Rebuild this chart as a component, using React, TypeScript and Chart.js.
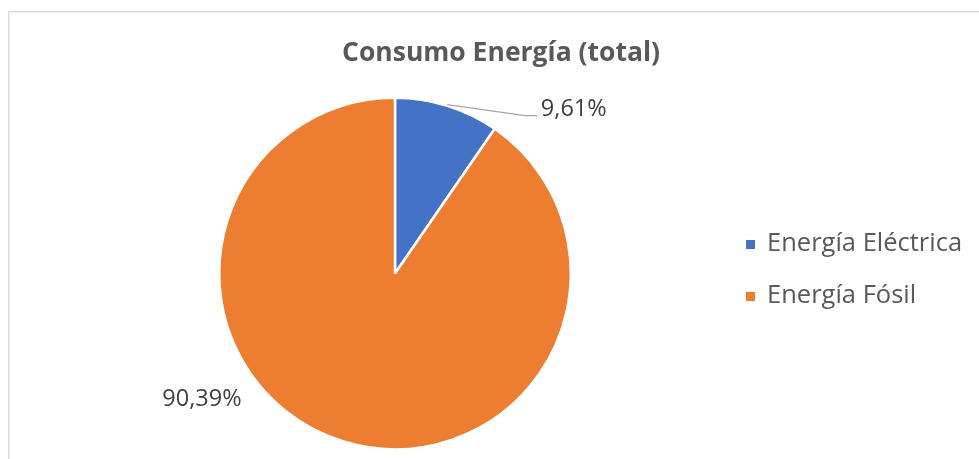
import React, { useEffect, useRef } from "react";
import { Chart, registerables } from "chart.js";

Chart.register(...registerables);

const TITLE = "Consumo Energía (total)";
const categories = ["Energía Eléctrica", "Energía Fósil"];
const values = [9.61, 90.39];
const colors = ["#4472C4", "#ED7D31"];

const FONT = "'Open Sans', 'Noto Sans', sans-serif";
const fmt = (v: number) => v.toFixed(2).replace(".", ",") + "%";

const overlay = {
  id: "overlay",
  beforeDraw(chart: any) {
    const ctx = chart.ctx;
    ctx.save();
    ctx.fillStyle = "#ffffff";
    ctx.fillRect(0, 0, chart.width, chart.height);
    ctx.strokeStyle = "#d9d9d9";
    ctx.lineWidth = 1.5;
    ctx.strokeRect(8.75, 11.75, chart.width + 50, chart.height + 50);
    ctx.restore();
  },
  afterDraw(chart: any) {
    const ctx = chart.ctx;
    const arcs = chart.getDatasetMeta(0).data;
    ctx.save();
    // title
    ctx.fillStyle = "#595959";
    ctx.font = `bold 26.5px ${FONT}`;
    ctx.textAlign = "center";
    ctx.textBaseline = "middle";
    ctx.fillText(TITLE, 501, 53);
    // legend
    ctx.font = `25.5px ${FONT}`;
    ctx.textAlign = "left";
    categories.forEach((c, i) => {
      const y = 244 + i * 52;
      ctx.fillStyle = colors[i];
      ctx.fillRect(746, y - 4, 9, 9);
      ctx.fillStyle = "#595959";
      ctx.fillText(c, 767, y);
    });
    // data labels
    ctx.fillStyle = "#404040";
    ctx.textBaseline = "alphabetic";
    ctx.font = `23.5px ${FONT}`;
    const a0 = arcs[0].getProps(["x", "y", "outerRadius", "startAngle", "endAngle"], true);
    const r = a0.outerRadius;
    const mid = (a0.startAngle + a0.endAngle) / 2;
    ctx.strokeStyle = "#a6a6a6";
    ctx.lineWidth = 1.3;
    ctx.beginPath();
    ctx.moveTo(a0.x + r * Math.cos(mid), a0.y + r * Math.sin(mid) - 1);
    ctx.lineTo(a0.x + 0.739 * r, a0.y - 0.898 * r);
    ctx.lineTo(a0.x + 0.81 * r, a0.y - 0.898 * r);
    ctx.stroke();
    ctx.fillText(fmt(values[0]), a0.x + 0.83 * r, a0.y - 0.895 * r);
    ctx.fillText(fmt(values[1]), a0.x - 1.324 * r, a0.y + 0.756 * r);
    ctx.restore();
  },
};

export default function App() {
  const ref = useRef<HTMLCanvasElement | null>(null);
  useEffect(() => {
    document.body.style.margin = "0";
    const chart = new Chart(ref.current as HTMLCanvasElement, {
      type: "pie",
      data: {
        labels: categories,
        datasets: [
          {
            data: values,
            backgroundColor: colors,
            borderColor: "#ffffff",
            borderWidth: 2.5,
          },
        ],
      },
      options: {
        responsive: false,
        animation: false,
        layout: { padding: { left: 218, right: 407, top: 96, bottom: 8 } },
        plugins: {
          legend: { display: false },
          title: { display: false },
          tooltip: { enabled: false },
        },
      },
      plugins: [overlay],
    });
    return () => chart.destroy();
  }, []);
  return (
    <div style={{ position: "absolute", left: 0, top: 0, width: 979, height: 459 }}>
      <canvas ref={ref} width={979} height={459} style={{ width: 979, height: 459, display: "block" }} />
    </div>
  );
}
